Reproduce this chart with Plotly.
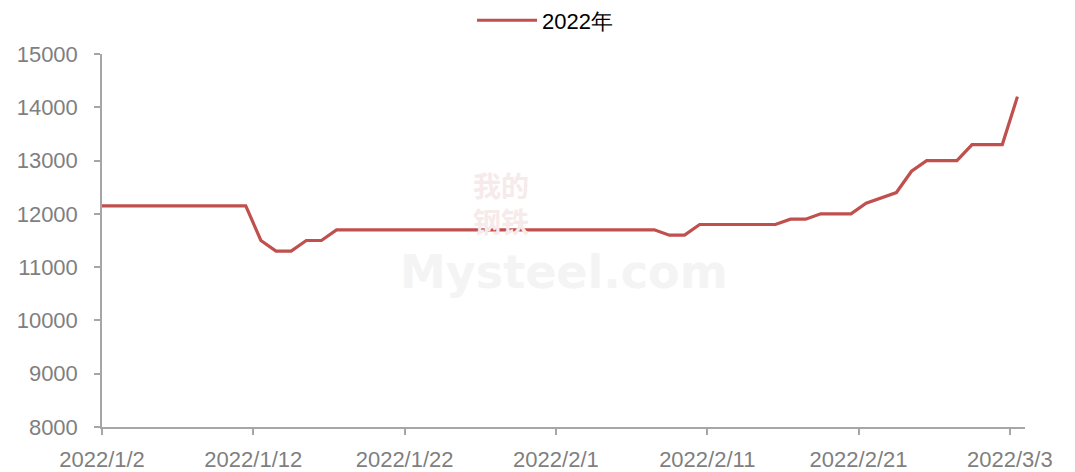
import pandas as pd
import plotly.graph_objects as go

# Data: daily price, 2022/1/1 .. 2022/3/3
start_date = "2022-01-01"
end_date = "2022-03-03"
series_name = "2022年"
values = [
    12150, 12150, 12150, 12150, 12150, 12150, 12150, 12150, 12150, 12150, 12150,  # 1/1-1/11
    11500, 11300, 11300, 11500, 11500,                                            # 1/12-1/16
    11700, 11700, 11700, 11700, 11700, 11700, 11700, 11700, 11700, 11700, 11700,  # 1/17-1/27
    11700, 11700, 11700, 11700, 11700, 11700, 11700, 11700, 11700, 11700, 11700,  # 1/28-2/7
    11600, 11600,                                                                 # 2/8-2/9
    11800, 11800, 11800, 11800, 11800, 11800,                                     # 2/10-2/15
    11900, 11900, 12000, 12000, 12000,                                            # 2/16-2/20
    12200, 12300, 12400, 12800, 13000, 13000, 13000,                              # 2/21-2/27
    13300, 13300, 13300, 14200,                                                   # 2/28-3/3
]
tick_dates = ["2022-01-02", "2022-01-12", "2022-01-22", "2022-02-01",
              "2022-02-11", "2022-02-21", "2022-03-03"]
tick_labels = ["2022/1/2", "2022/1/12", "2022/1/22", "2022/2/1",
               "2022/2/11", "2022/2/21", "2022/3/3"]
y_ticks = [8000, 9000, 10000, 11000, 12000, 13000, 14000, 15000]
y_labels = ["8000", "9000", "10000", "11000", "12000", "13000", "14000", "15000"]

dates = pd.date_range(start_date, end_date, freq="D")
# Excel date axis "between tick marks": points sit in the middle of each day
x_pos = dates + pd.Timedelta(hours=12)

LINE = "#C0504D"
AXIS = "#A6A6A6"
TXT = "#7F7F7F"
FONT = "Liberation Sans, Arial, sans-serif"

fig = go.Figure()
fig.add_trace(go.Scatter(
    x=x_pos, y=values, mode="lines", name=series_name,
    line=dict(color=LINE, width=3.2), cliponaxis=True,
))

# faint watermark
fig.add_annotation(text="<b>Mysteel.com</b>", xref="paper", yref="paper",
                   x=0.5, y=0.415, showarrow=False,
                   font=dict(size=46, color="#F4F4F4", family="DejaVu Sans"))
fig.add_annotation(text="<b>我的</b><br><b>钢铁</b>", xref="paper", yref="paper",
                   x=0.432, y=0.6, showarrow=False,
                   font=dict(size=28, color="#F7EAEA", family="Noto Sans CJK SC"))

# the page body adds an 8px offset; margins compensate so the plot area lands where the reference has it
fig.update_layout(
    width=1075, height=472,
    margin=dict(l=94, r=58, t=46, b=53, autoexpand=False),
    paper_bgcolor="white", plot_bgcolor="white",
    font=dict(family=FONT, size=22, color=TXT),
    showlegend=True,
    legend=dict(orientation="h", x=0.48, xanchor="center", y=1.09, yanchor="middle",
                font=dict(size=22, color="#000000", family=FONT),
                itemwidth=60, bgcolor="rgba(0,0,0,0)"),
    xaxis=dict(
        type="date", automargin=False,
        range=[pd.Timestamp(start_date) + pd.Timedelta(days=1),
               pd.Timestamp(end_date) + pd.Timedelta(days=1)],
        tickvals=pd.to_datetime(tick_dates), ticktext=tick_labels,
        showgrid=False, zeroline=False,
        showline=True, linecolor=AXIS, linewidth=1.5,
        ticks="outside", ticklen=6, tickcolor=AXIS, tickwidth=1.5,
        tickfont=dict(size=22, color=TXT, family=FONT),
        ticklabelstandoff=6,
    ),
    yaxis=dict(
        range=[8000, 15000], tickvals=y_ticks, ticktext=y_labels, automargin=False,
        showgrid=False, zeroline=False,
        showline=True, linecolor=AXIS, linewidth=1.5,
        ticks="outside", ticklen=6, tickcolor=AXIS, tickwidth=1.5,
        tickfont=dict(size=22, color=TXT, family=FONT),
        ticklabelstandoff=12,
    ),
)

fig.write_html("out.html")
